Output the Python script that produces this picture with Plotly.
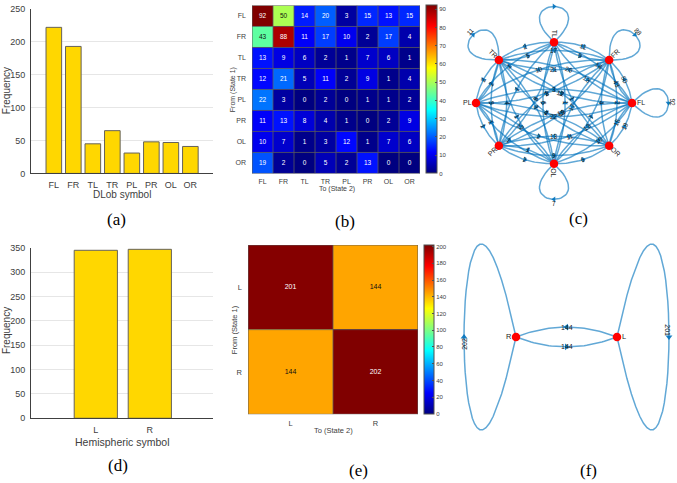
import math
import plotly.graph_objects as go

# ---------------- data ----------------
dlob_labels = ["FL", "FR", "TL", "TR", "PL", "PR", "OL", "OR"]
dlob_freq = [222, 193, 45, 65, 31, 48, 47, 41]
dlob_trans = [
    [92, 50, 14, 20, 3, 15, 13, 15],
    [43, 88, 11, 17, 10, 2, 17, 4],
    [13, 9, 6, 2, 1, 7, 6, 1],
    [12, 21, 5, 11, 2, 9, 1, 4],
    [22, 3, 0, 2, 0, 1, 1, 2],
    [11, 13, 8, 4, 1, 0, 2, 9],
    [10, 7, 1, 3, 12, 1, 7, 6],
    [19, 2, 0, 5, 2, 13, 0, 0],
]
hemi_labels = ["L", "R"]
hemi_freq = [345, 347]
hemi_trans = [[201, 144], [144, 202]]
panel_tags = ["(a)", "(b)", "(c)", "(d)", "(e)", "(f)"]

# ---------------- style ----------------
W, H = 677, 483
FONT = "Liberation Sans, Arial, sans-serif"
SERIF = "Liberation Serif, Times New Roman, serif"
AXC = "#404040"
GRID = "#e6e6e6"
BAR = "#FFD700"
BAR_EDGE = "#66625a"
EDGE = "rgba(0,114,189,0.62)"
ARROW = "rgba(0,114,189,0.9)"
NODE = "#ff0000"
JET_STOPS = [(0.0, (0, 0, 128)), (0.125, (0, 0, 255)), (0.375, (0, 255, 255)),
             (0.625, (255, 255, 0)), (0.875, (255, 0, 0)), (1.0, (128, 0, 0))]
JET_SCALE = [[s, "rgb(%d,%d,%d)" % c] for s, c in JET_STOPS]


def px(x):
    return x / W


def py(y):
    return 1 - y / H


def jet_rgb(v):
    v = min(max(v, 0.0), 1.0)
    for (s0, c0), (s1, c1) in zip(JET_STOPS[:-1], JET_STOPS[1:]):
        if v <= s1:
            f = (v - s0) / (s1 - s0)
            return tuple(c0[k] + f * (c1[k] - c0[k]) for k in range(3))
    return JET_STOPS[-1][1]


fig = go.Figure()
shapes = []
annotations = []


def ann(x, y, text, size, xref="paper", yref="paper", angle=0, color=AXC, family=FONT):
    annotations.append(dict(x=x, y=y, xref=xref, yref=yref, text=text, showarrow=False,
                            textangle=angle, font=dict(size=size, color=color, family=family),
                            xanchor="center", yanchor="middle"))


# ---------------- bar charts ----------------
def bar_axes(xa, ya, labels, xdom, ydom, xr, ymax, tfs):
    n = len(labels)
    fig.layout[xa] = dict(domain=xdom, range=xr, tickvals=list(range(n)), ticktext=labels,
                          showline=True, linecolor=AXC, linewidth=1, ticks="", showgrid=False,
                          zeroline=False, tickfont=dict(size=tfs, color=AXC, family=FONT),
                          anchor=ya.replace("axis", ""), fixedrange=True, ticklabelstandoff=3)
    fig.layout[ya] = dict(domain=ydom, range=[0, ymax], dtick=50, showline=True, linecolor=AXC,
                          linewidth=1, ticks="", showgrid=True, gridcolor=GRID, zeroline=False,
                          tickfont=dict(size=tfs, color=AXC, family=FONT),
                          anchor=xa.replace("axis", ""), fixedrange=True, ticklabelstandoff=3)


fig.add_trace(go.Bar(x=list(range(len(dlob_labels))), y=dlob_freq, width=0.8,
                     marker=dict(color=BAR, line=dict(color=BAR_EDGE, width=1)),
                     xaxis="x", yaxis="y", showlegend=False, hoverinfo="skip"))
bar_axes("xaxis", "yaxis", dlob_labels, [px(31), px(213)], [py(172), py(4)], [-1.17, 8.16], 250, 9)

fig.add_trace(go.Bar(x=list(range(len(hemi_labels))), y=hemi_freq, width=0.8,
                     marker=dict(color=BAR, line=dict(color=BAR_EDGE, width=1)),
                     xaxis="x4", yaxis="y4", showlegend=False, hoverinfo="skip"))
bar_axes("xaxis4", "yaxis4", hemi_labels, [px(31), px(213)], [py(422), py(248)], [-1.2, 2.17], 350, 9)


# ---------------- heatmaps ----------------
def heatmap(z, labels, xa, ya, xdom, ydom, zmax, dtick, cb_x, cb_th, tfs, cfs):
    n = len(labels)
    idx = list(range(n))
    ax = xa.replace("axis", "")
    ay = ya.replace("axis", "")
    fig.add_trace(go.Heatmap(
        z=z, x=idx, y=idx, colorscale=JET_SCALE, zmin=0, zmax=zmax, xaxis=ax, yaxis=ay,
        hoverinfo="skip",
        colorbar=dict(x=px(cb_x), xanchor="left", y=ydom[1], yanchor="top",
                      len=ydom[1] - ydom[0], lenmode="fraction", thickness=cb_th,
                      xpad=0, ypad=0, outlinecolor="#505050", outlinewidth=1,
                      tick0=0, dtick=dtick, ticks="inside", ticklen=2, tickcolor="#505050",
                      tickfont=dict(size=6, color=AXC, family=FONT))))
    xs, ys, ts, cs = [], [], [], []
    for r in range(n):
        for c in range(n):
            v = z[r][c]
            rgb = jet_rgb(v / zmax)
            lum = (0.299 * rgb[0] + 0.587 * rgb[1] + 0.114 * rgb[2]) / 255
            xs.append(c)
            ys.append(r)
            ts.append(str(v))
            cs.append("#111111" if lum > 0.5 else "#ffffff")
    fig.add_trace(go.Scatter(x=xs, y=ys, text=ts, mode="text",
                             textfont=dict(color=cs, size=cfs, family=FONT),
                             xaxis=ax, yaxis=ay, showlegend=False, hoverinfo="skip"))
    for k in range(1, n):
        shapes.append(dict(type="line", xref=ax, yref=ay, x0=k - 0.5, x1=k - 0.5, y0=-0.5, y1=n - 0.5,
                           line=dict(color="#5a5a5a", width=0.8)))
        shapes.append(dict(type="line", xref=ax, yref=ay, y0=k - 0.5, y1=k - 0.5, x0=-0.5, x1=n - 0.5,
                           line=dict(color="#5a5a5a", width=0.8)))
    shapes.append(dict(type="rect", xref=ax, yref=ay, x0=-0.5, x1=n - 0.5, y0=-0.5, y1=n - 0.5,
                       line=dict(color="#5a5a5a", width=1)))
    fig.layout[xa] = dict(domain=xdom, range=[-0.5, n - 0.5], tickvals=idx, ticktext=labels,
                          ticks="", showgrid=False, zeroline=False, showline=False,
                          tickfont=dict(size=tfs, color=AXC, family=FONT), anchor=ay,
                          fixedrange=True, ticklabelstandoff=3)
    fig.layout[ya] = dict(domain=ydom, range=[n - 0.5, -0.5], tickvals=idx, ticktext=labels,
                          ticks="", showgrid=False, zeroline=False, showline=False,
                          tickfont=dict(size=tfs, color=AXC, family=FONT), anchor=ax,
                          fixedrange=True, ticklabelstandoff=5)


heatmap(dlob_trans, dlob_labels, "xaxis2", "yaxis2", [px(252), px(420)], [py(172), py(0.5)],
        max(max(r) for r in dlob_trans), 10, 426, 11, 7, 6.5)
heatmap(hemi_trans, hemi_labels, "xaxis5", "yaxis5", [px(248), px(418)], [py(418), py(245)],
        max(max(r) for r in hemi_trans), 20, 424, 10, 7.5, 7)


# ---------------- directed graphs ----------------
def rot_ccw(v, a):
    # visually counter-clockwise rotation in screen coordinates (y down)
    c, s = math.cos(a), math.sin(a)
    return (v[0] * c + v[1] * s, -v[0] * s + v[1] * c)


def norm_angle(a):
    while a > 90:
        a -= 180
    while a <= -90:
        a += 180
    return a


def graph(M, labels, center, rx, ry, ax, ay, bulge, loop_k, loop_phi, node_size,
          arrow_size, lab_fs, node_fs, line_w, loop_label_t, loop_label_out):
    n = len(labels)
    ang = [2 * math.pi * i / n for i in range(n)]
    pos = [(center[0] + rx * math.cos(a), center[1] - ry * math.sin(a)) for a in ang]
    ts = [i / 40 for i in range(41)]
    arr_x, arr_y, arr_a = [], [], []
    for i in range(n):
        for j in range(n):
            w = M[i][j]
            if w <= 0:
                continue
            p0 = pos[i]
            if i != j:
                p2 = pos[j]
                dx, dy = p2[0] - p0[0], p2[1] - p0[1]
                L = math.hypot(dx, dy)
                nvec = (-dy / L, dx / L)
                h = bulge * L
                c = ((p0[0] + p2[0]) / 2 + 2 * h * nvec[0], (p0[1] + p2[1]) / 2 + 2 * h * nvec[1])
                xs = [(1 - t) ** 2 * p0[0] + 2 * (1 - t) * t * c[0] + t * t * p2[0] for t in ts]
                ys = [(1 - t) ** 2 * p0[1] + 2 * (1 - t) * t * c[1] + t * t * p2[1] for t in ts]
                mx = (p0[0] + p2[0]) / 2 + h * nvec[0]
                my = (p0[1] + p2[1]) / 2 + h * nvec[1]
                tx, ty = dx, dy
                lx, ly = mx, my
            else:
                d = (math.cos(ang[i]), -math.sin(ang[i]))
                v1 = rot_ccw(d, loop_phi)
                v2 = rot_ccw(d, -loop_phi)
                c1 = (p0[0] + loop_k * v1[0], p0[1] + loop_k * v1[1])
                c2 = (p0[0] + loop_k * v2[0], p0[1] + loop_k * v2[1])

                def b3(t, k):
                    return ((1 - t) ** 3 * p0[k] + 3 * (1 - t) ** 2 * t * c1[k]
                            + 3 * (1 - t) * t * t * c2[k] + t ** 3 * p0[k])
                xs = [b3(t, 0) for t in ts]
                ys = [b3(t, 1) for t in ts]
                mx, my = b3(0.5, 0), b3(0.5, 1)
                tx, ty = c2[0] - c1[0], c2[1] - c1[1]
                lx = b3(loop_label_t, 0) + loop_label_out * d[0]
                ly = b3(loop_label_t, 1) + loop_label_out * d[1]
            fig.add_trace(go.Scatter(x=xs, y=ys, mode="lines", line=dict(color=EDGE, width=line_w),
                                     xaxis=ax, yaxis=ay, showlegend=False, hoverinfo="skip"))
            arr_x.append(mx)
            arr_y.append(my)
            arr_a.append(math.degrees(math.atan2(tx, -ty)))
            ann(lx, ly, str(w), lab_fs, xref=ax, yref=ay,
                angle=norm_angle(math.degrees(math.atan2(ty, tx))), color="#1a1a1a")
    fig.add_trace(go.Scatter(x=arr_x, y=arr_y, mode="markers",
                             marker=dict(symbol="triangle-up", size=arrow_size, angle=arr_a, color=ARROW,
                                         line=dict(width=0)),
                             xaxis=ax, yaxis=ay, showlegend=False, hoverinfo="skip", cliponaxis=False))
    fig.add_trace(go.Scatter(x=[p[0] for p in pos], y=[p[1] for p in pos], mode="markers",
                             marker=dict(size=node_size, color=NODE, line=dict(width=0)),
                             xaxis=ax, yaxis=ay, showlegend=False, hoverinfo="skip", cliponaxis=False))
    for i in range(n):
        a = ang[i]
        deg = math.degrees(a)
        off = 4.5 + 0.3 * node_fs * len(labels[i])
        lx = pos[i][0] + off * math.cos(a)
        ly = pos[i][1] - off * math.sin(a)
        ann(lx, ly, labels[i], node_fs, xref=ax, yref=ay, angle=norm_angle(-deg), color="#262626")


graph(dlob_trans, dlob_labels, (554, 100), 78, 62, "x3", "y3", bulge=0.09,
      loop_k=70, loop_phi=math.radians(46), node_size=8.5, arrow_size=5, lab_fs=6.5, node_fs=7,
      line_w=1.5, loop_label_t=0.5, loop_label_out=4)
graph(hemi_trans, hemi_labels, (566.5, 339), 50.5, 50.5, "x6", "y6", bulge=0.1,
      loop_k=math.hypot(69.3, 329), loop_phi=math.atan2(329, 69.3), node_size=8.5, arrow_size=6,
      lab_fs=7, node_fs=7.5, line_w=1.5, loop_label_t=0.486, loop_label_out=-1)

for xa, ya, xr, yr, xd, yd in [("xaxis3", "yaxis3", [455, 677], [230, 0], [px(455), 1], [py(230), 1]),
                               ("xaxis6", "yaxis6", [455, 677], [483, 240], [px(455), 1], [0, py(240)])]:
    fig.layout[xa] = dict(domain=xd, range=xr, visible=False, fixedrange=True, anchor=ya.replace("axis", ""))
    fig.layout[ya] = dict(domain=yd, range=yr, visible=False, fixedrange=True, anchor=xa.replace("axis", ""))

# ---------------- axis titles & panel tags ----------------
ann(px(6), py(88), "Frequency", 10, angle=-90)
ann(px(122), py(194), "DLob symbol", 10)
ann(px(6), py(333), "Frequency", 10, angle=-90)
ann(px(122), py(446), "Hemispheric symbol", 10.5)
ann(px(233), py(87), "From (State 1)", 7, angle=-90)
ann(px(337), py(188), "To (State 2)", 7)
ann(px(234), py(331), "From (State 1)", 7.5, angle=-90)
ann(px(333), py(434), "To (State 2)", 7.5)

tag_pos = [(117, 219), (345, 221), (578, 218), (118, 470), (358, 475), (588, 475)]
for t, (x, y) in zip(panel_tags, tag_pos):
    ann(px(x), py(y), t, 17, color="#000000", family=SERIF)

fig.update_layout(width=W, height=H, margin=dict(l=0, r=0, t=0, b=0),
                  paper_bgcolor="white", plot_bgcolor="rgba(0,0,0,0)",
                  shapes=shapes, annotations=annotations, showlegend=False,
                  bargap=0.2, font=dict(family=FONT))
fig.write_html("out.html")
